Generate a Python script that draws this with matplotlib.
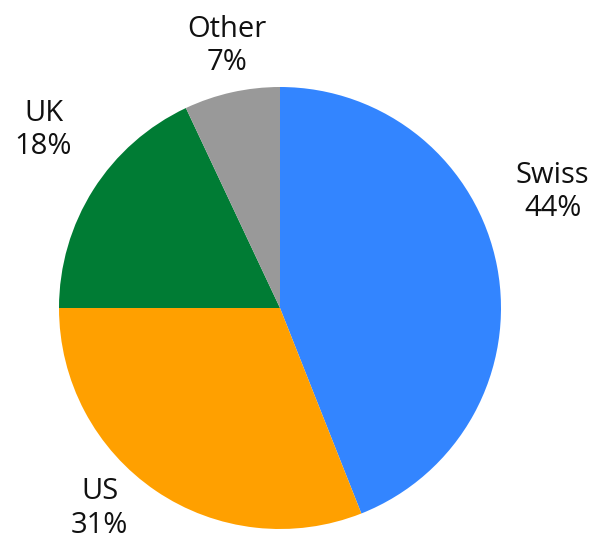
import numpy as np
import matplotlib
matplotlib.use("Agg")
import matplotlib.pyplot as plt

categories = ["Swiss", "US", "UK", "Other"]
shares = [44, 31, 18, 7]
colors = ["#3385FF", "#FFA000", "#007C34", "#999999"]

# label placement: (angle offset from wedge middle in degrees, radial distance)
label_place = {"Swiss": (12.2, 1.34), "US": (-7.8, 1.22), "UK": (-4.6, 1.34), "Other": (-1.2, 1.21)}

W, H, DPI = 595, 546, 100
cx, cy, r = 280, 308, 221

plt.rcParams["font.family"] = ["Open Sans", "DejaVu Sans"]
fig = plt.figure(figsize=(W / DPI, H / DPI), dpi=DPI)
ax = fig.add_axes([0, 0, 1, 1])
wedges, _ = ax.pie(shares, colors=colors, startangle=90, counterclock=False,
                   radius=1.0, wedgeprops=dict(linewidth=0))
ax.set_xlim(-cx / r, (W - cx) / r)
ax.set_ylim(-(H - cy) / r, cy / r)
ax.set_aspect("auto")
ax.axis("off")

for w, name, val in zip(wedges, categories, shares):
    mid = 0.5 * (w.theta1 + w.theta2)
    off, dist = label_place[name]
    a = np.deg2rad(mid + off)
    ax.text(dist * np.cos(a), dist * np.sin(a), f"{name}\n{val}%",
            ha="center", va="center", fontsize=21, linespacing=1.2, color="#111111")

fig.savefig("out.png", dpi=DPI)
